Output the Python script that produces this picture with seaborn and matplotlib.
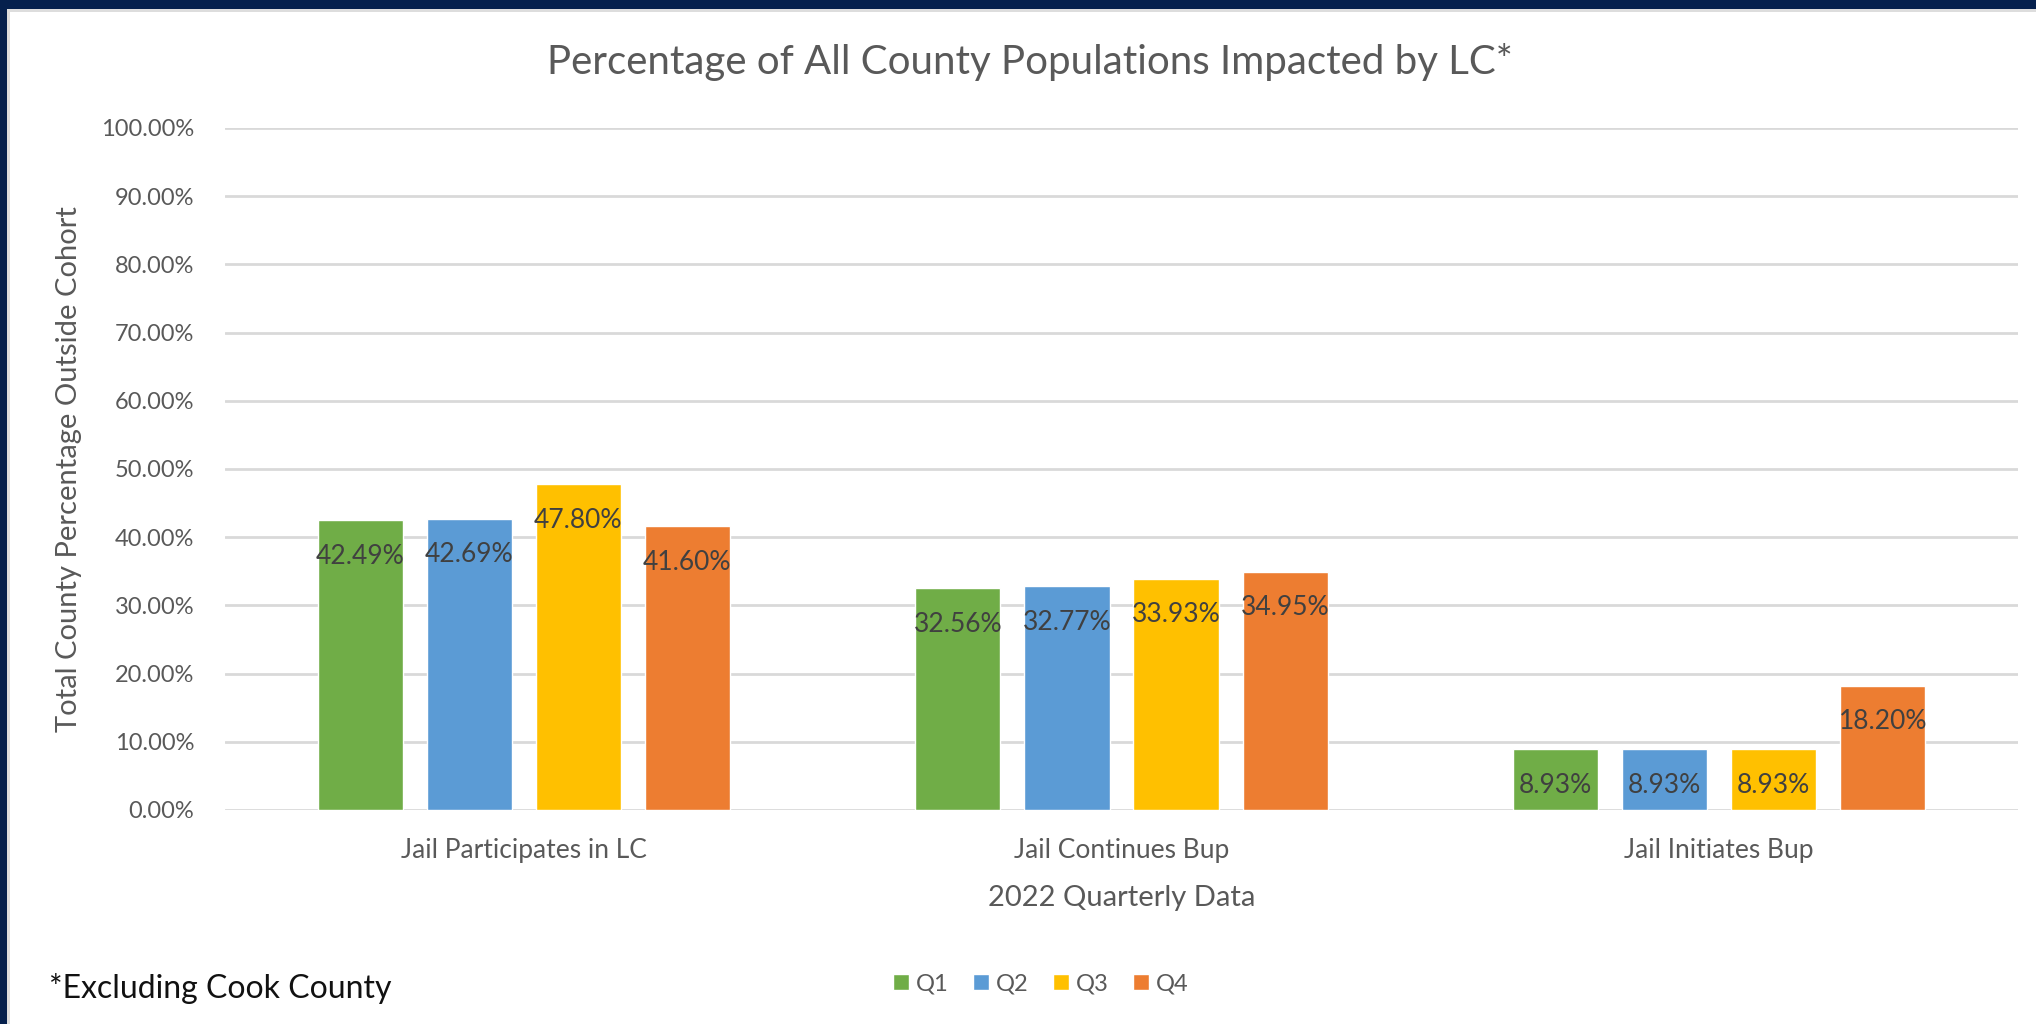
import pandas as pd
import matplotlib.pyplot as plt
import seaborn as sns
from matplotlib.patches import Rectangle
from matplotlib.ticker import FuncFormatter

# data
categories = ['Jail Participates in LC', 'Jail Continues Bup', 'Jail Initiates Bup']
quarters = ['Q1', 'Q2', 'Q3', 'Q4']
q1 = [42.49, 32.56, 8.93]
q2 = [42.69, 32.77, 8.93]
q3 = [47.80, 33.93, 8.93]
q4 = [41.60, 34.95, 18.20]
colors = ['#70AD47', '#5B9BD5', '#FFC000', '#ED7D31']

rows = []
for q, vals in zip(quarters, [q1, q2, q3, q4]):
    for c, v in zip(categories, vals):
        rows.append({'category': c, 'quarter': q, 'value': v})
df = pd.DataFrame(rows)

sns.set_theme(style='white')
plt.rcParams['font.family'] = ['Lato', 'DejaVu Sans']

fig = plt.figure(figsize=(20.36, 10.24), dpi=100)
fig.patch.set_facecolor('white')
# navy frame on top and left, thin grey inner edge
fig.patches.append(Rectangle((0, 1 - 9 / 1024), 1, 9 / 1024, transform=fig.transFigure,
                             facecolor='#05204D', edgecolor='none', zorder=0))
fig.patches.append(Rectangle((0, 0), 7 / 2036, 1, transform=fig.transFigure,
                             facecolor='#05204D', edgecolor='none', zorder=0))
fig.patches.append(Rectangle((7 / 2036, 0), 3 / 2036, 1 - 9 / 1024, transform=fig.transFigure,
                             facecolor='#DDDDDD', edgecolor='none', zorder=0))
fig.patches.append(Rectangle((7 / 2036, 1 - 12 / 1024), 1, 3 / 1024, transform=fig.transFigure,
                             facecolor='#DDDDDD', edgecolor='none', zorder=0))

ax = fig.add_axes([225 / 2036, 0.209, 1793 / 2036, 0.666])
sns.barplot(data=df, x='category', y='value', hue='quarter', hue_order=quarters,
            palette=colors, width=0.73, gap=0.22, saturation=1, ax=ax, legend=True)

ax.set_ylim(0, 100)
ax.set_xlim(-0.5, 2.5)
ax.set_yticks(range(0, 101, 10))
ax.yaxis.set_major_formatter(FuncFormatter(lambda v, p: f'{v:.2f}%'))
ax.grid(axis='y', color='#D9D9D9', linewidth=2)
ax.set_axisbelow(True)
for s in ax.spines.values():
    s.set_visible(False)
ax.tick_params(axis='y', length=0, labelsize=17, colors='#595959', pad=22)
ax.tick_params(axis='x', length=0, labelsize=19, colors='#595959', pad=20)

for cont in ax.containers:
    ax.bar_label(cont, labels=[f'{b.get_height():.2f}%' for b in cont],
                 label_type='edge', padding=-35, fontsize=19, color='#404040')

ax.set_xlabel('2022 Quarterly Data', fontsize=21, color='#595959', labelpad=16)
ax.set_ylabel('Total County Percentage Outside Cohort', fontsize=21, color='#595959', labelpad=14)

fig.text(1030 / 2036, 1 - 62 / 1024, 'Percentage of All County Populations Impacted by LC*',
         fontsize=29, color='#595959', ha='center', va='center')

ax.legend(loc='center', bbox_to_anchor=(0.455, -0.255), ncol=4, frameon=False,
          fontsize=17, labelcolor='#595959', handlelength=0.7, handleheight=0.7,
          handletextpad=0.3, columnspacing=1.0)

fig.text(49 / 2036, 1 - 988 / 1024, '*Excluding Cook County', fontsize=23,
         color='#111111', va='center', ha='left')

fig.savefig('out.png', dpi=100)
